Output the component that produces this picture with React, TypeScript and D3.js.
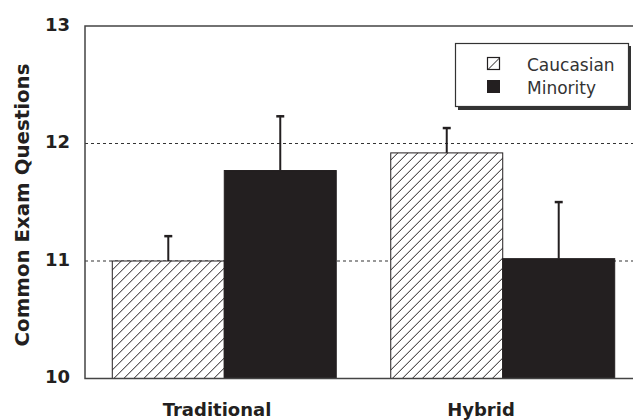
import React from "react";
import * as d3 from "d3";

const categories = ["Traditional", "Hybrid"];
const series = ["Caucasian", "Minority"];
const caucasianValues = [11.0, 11.92];
const minorityValues = [11.77, 11.02];
const caucasianErrors = [0.22, 0.22];
const minorityErrors = [0.47, 0.49];
const yTicks = [10, 11, 12, 13];
const gridValues = [11, 12];

const W = 633;
const H = 420;
const INK = "#231f20";

export default function App() {
  const left = 85;
  const top = 26;
  const bottom = 378.5;
  const right = 642;

  const y = d3.scaleLinear().domain([10, 13]).range([bottom, top]);
  const x0 = d3
    .scaleBand<string>()
    .domain(categories)
    .range([left, right])
    .paddingInner(0.1957)
    .paddingOuter(0.098);
  const x1 = d3.scaleBand<string>().domain(series).range([0, x0.bandwidth()]);
  const xLabel = d3.scaleBand<string>().domain(categories).range([left, 613]);

  const valuesBySeries: Record<string, number[]> = {
    Caucasian: caucasianValues,
    Minority: minorityValues,
  };
  const errorsBySeries: Record<string, number[]> = {
    Caucasian: caucasianErrors,
    Minority: minorityErrors,
  };
  const fillBySeries: Record<string, string> = {
    Caucasian: "url(#hatch)",
    Minority: INK,
  };

  const font = "'DejaVu Sans', Arial, sans-serif";

  return (
    <svg
      width={W}
      height={H}
      style={{ position: "absolute", left: 0, top: 0, background: "#fff" }}
    >
      <defs>
        <pattern id="hatch" patternUnits="userSpaceOnUse" width={10} height={10}>
          <rect width={10} height={10} fill="#fff" />
          <path
            d="M0,10 L10,0 M-2.5,2.5 L2.5,-2.5 M7.5,12.5 L12.5,7.5"
            stroke={INK}
            strokeWidth={1}
          />
        </pattern>
      </defs>
      <rect width={W} height={H} fill="#fff" />

      {/* gridlines */}
      {gridValues.map((v) => (
        <line
          key={v}
          x1={left}
          x2={W}
          y1={y(v)}
          y2={y(v)}
          stroke="#333"
          strokeWidth={1.2}
          strokeDasharray="3,3"
        />
      ))}

      {/* bars */}
      {categories.map((c, ci) => (
        <g key={c} transform={`translate(${x0(c)},0)`}>
          {series.map((s) => {
            const v = valuesBySeries[s][ci];
            const e = errorsBySeries[s][ci];
            const bx = x1(s)!;
            const bw = x1.bandwidth();
            const cx = bx + bw / 2;
            return (
              <g key={s}>
                <line
                  x1={cx}
                  x2={cx}
                  y1={y(v)}
                  y2={y(v + e)}
                  stroke={INK}
                  strokeWidth={2}
                />
                <line
                  x1={cx - 4}
                  x2={cx + 4}
                  y1={y(v + e) + 1}
                  y2={y(v + e) + 1}
                  stroke={INK}
                  strokeWidth={2.5}
                />
                <rect
                  x={bx}
                  y={y(v)}
                  width={bw}
                  height={bottom - y(v)}
                  fill={fillBySeries[s]}
                  stroke={INK}
                  strokeWidth={1}
                />
              </g>
            );
          })}
        </g>
      ))}

      {/* frame */}
      <path
        d={`M${W + 5},${top} L${left},${top} L${left},${bottom} L${W + 5},${bottom}`}
        fill="none"
        stroke="#444"
        strokeWidth={1.5}
      />

      {/* y tick labels */}
      {yTicks.map((t) => (
        <text
          key={t}
          x={70}
          y={y(t) + 4.5}
          textAnchor="end"
          fontFamily={font}
          fontWeight="bold"
          fontSize={18}
          fill={INK}
        >
          {t}
        </text>
      ))}

      {/* y axis title */}
      <text
        transform={`translate(28.5,205) rotate(-90)`}
        textAnchor="middle"
        fontFamily={font}
        fontWeight="bold"
        fontSize={19}
        textLength={283}
        lengthAdjust="spacingAndGlyphs"
        fill={INK}
      >
        Common Exam Questions
      </text>

      {/* category labels */}
      {categories.map((c) => (
        <text
          key={c}
          x={xLabel(c)! + xLabel.bandwidth() / 2}
          y={416}
          textAnchor="middle"
          fontFamily={font}
          fontWeight="bold"
          fontSize={18}
          fill={INK}
        >
          {c}
        </text>
      ))}

      {/* legend */}
      <g>
        <rect x={458} y={46} width={173} height={64} fill="#333" />
        <rect x={455.5} y={43.5} width={173} height={63} fill="#fff" stroke="#333" strokeWidth={1.2} />
        {series.map((s, i) => {
          const sy = 57 + i * 23;
          return (
            <g key={s}>
              {s === "Caucasian" ? (
                <g>
                  <rect x={487.5} y={sy + 0.5} width={12} height={12} fill="#fff" stroke={INK} strokeWidth={1.2} />
                  <line x1={488} y1={sy + 12.5} x2={499.5} y2={sy + 1} stroke={INK} strokeWidth={1} />
                </g>
              ) : (
                <rect x={487} y={sy} width={13} height={13} fill={INK} />
              )}
              <text
                x={527}
                y={sy + 13.5}
                fontFamily={font}
                fontSize={17}
                fill="#333"
              >
                {s}
              </text>
            </g>
          );
        })}
      </g>
    </svg>
  );
}
